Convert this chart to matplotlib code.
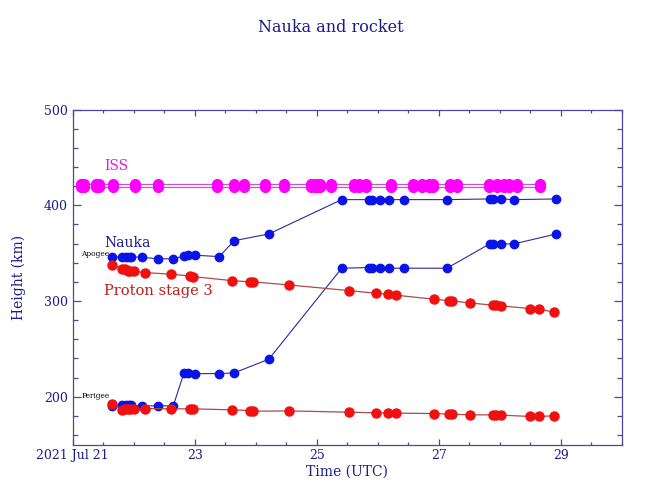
import matplotlib.pyplot as plt
from matplotlib.ticker import MultipleLocator

# times in days of July 2021 (UTC)
iss_t = [21.133, 21.187, 21.385, 21.439, 21.659, 22.025, 22.403, 23.373, 23.641,
         23.817, 24.157, 24.469, 24.913, 24.967, 25.012, 25.049, 25.242, 25.613,
         25.695, 25.805, 26.216, 26.573, 26.721, 26.846, 26.901, 27.186, 27.301,
         27.822, 27.953, 28.068, 28.150, 28.282, 28.653]
iss_apo = [422.3] * len(iss_t)
iss_peri = [418.7] * len(iss_t)

nauka_t = [21.643, 21.815, 21.870, 21.923, 21.955, 22.136, 22.399, 22.650, 22.825,
           22.885, 23.011, 23.401, 23.650, 24.216, 25.411, 25.860, 25.915, 26.040,
           26.178, 26.435, 27.136, 27.835, 27.895, 28.029, 28.233, 28.928]
nauka_apo = [345.8, 346.4, 346.4, 346.4, 346.4, 345.5, 344.3, 344.0, 347.1,
             347.9, 347.9, 346.4, 363.1, 370.1, 406.0, 406.0, 406.0, 406.0,
             406.0, 406.0, 406.0, 406.7, 406.7, 406.7, 406.0, 406.7]
nauka_peri = [190.4, 191.4, 191.4, 191.4, 191.0, 190.4, 190.4, 190.4, 224.9,
              224.9, 224.1, 224.1, 224.9, 239.2, 334.3, 335.0, 334.3, 334.3,
              334.3, 334.3, 334.3, 359.7, 359.7, 359.7, 359.7, 370.1]

proton_t = [21.652, 21.807, 21.861, 21.906, 21.943, 21.998, 22.190, 22.617, 22.918,
            22.974, 23.615, 23.915, 23.960, 24.545, 25.531, 25.970, 26.162, 26.298,
            26.918, 27.174, 27.214, 27.519, 27.887, 27.942, 28.024, 28.505, 28.637,
            28.883]
proton_apo = [337.4, 333.9, 333.2, 331.8, 331.8, 331.1, 329.7, 328.0, 326.2,
              325.5, 321.3, 320.0, 320.0, 316.8, 310.9, 308.1, 307.1, 306.1,
              301.9, 300.4, 300.1, 298.0, 295.6, 295.6, 294.9, 292.1, 291.8,
              288.3]
proton_peri = [192.2, 186.2, 187.3, 187.3, 187.3, 187.3, 187.6, 187.3, 187.3,
               187.3, 186.2, 185.5, 184.8, 185.1, 183.8, 183.1, 183.1, 182.8,
               182.4, 181.7, 181.7, 181.0, 181.0, 181.0, 180.7, 179.3, 179.3,
               180.0]

navy = "#1c1c8c"
axcol = "#4a4a96"
plt.rcParams["font.family"] = ["DejaVu Serif"]

fig = plt.figure(figsize=(6.62, 5.0), dpi=100)
ax = fig.add_axes([0.1097, 0.111, 0.8294, 0.6696])

for t, h in [(iss_t, iss_apo), (iss_t, iss_peri)]:
    ax.plot(t, h, color="#d050d0", lw=0.9, marker="o", ms=7,
            mfc="#ff00ff", mec="#ff00ff")
for h in [nauka_apo, nauka_peri]:
    ax.plot(nauka_t, h, color="#2a2aa0", lw=0.8, marker="o", ms=6,
            mfc="#0a14e6", mec="#0a14e6")
for h in [proton_apo, proton_peri]:
    ax.plot(proton_t, h, color="#b04848", lw=0.9, marker="o", ms=6.5,
            mfc="#f01010", mec="#f01010")

ax.text(21.52, 441, "ISS", color="#e020e0", fontsize=10, va="center")
ax.text(21.52, 361, "Nauka", color=navy, fontsize=10, va="center")
ax.text(21.52, 310.5, "Proton stage 3", color="#c01c1c", fontsize=10.5,
        va="center", wrap=False)
ax.text(21.14, 349, "Apogee", color="black", fontsize=5.3, va="center")
ax.text(21.14, 201, "Perigee", color="black", fontsize=5.3, va="center")

ax.set_xlim(21, 30)
ax.set_ylim(150, 500)
ax.set_xticks([21, 23, 25, 27, 29])
ax.set_xticklabels(["2021 Jul 21", "23", "25", "27", "29"])
ax.set_yticks([200, 300, 400, 500])
ax.xaxis.set_minor_locator(MultipleLocator(0.5))
ax.yaxis.set_minor_locator(MultipleLocator(20))

ax.tick_params(which="both", direction="in", top=True, right=True,
               colors=axcol, labelcolor=navy, labelsize=9, width=0.9)
ax.tick_params(axis="y", which="major", length=6)
ax.tick_params(axis="y", which="minor", length=3.5)
ax.tick_params(axis="x", which="major", length=4)
ax.tick_params(axis="x", which="minor", length=2)
for s in ax.spines.values():
    s.set_color(axcol)
    s.set_linewidth(0.9)

ax.set_xlabel("Time (UTC)", color=navy, fontsize=10, labelpad=2)
ax.set_ylabel("Height (km)", color=navy, fontsize=10, labelpad=13)
fig.text(0.5, 0.945, "Nauka and rocket", color=navy, fontsize=11.5, ha="center",
         va="center")

fig.savefig("out.png", dpi=100)
